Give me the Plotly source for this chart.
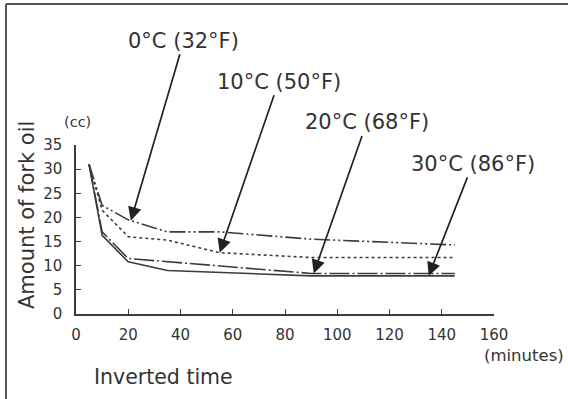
import numpy as np
import plotly.graph_objects as go

# ---- data ----
t_0c = [5, 10, 20, 35, 55, 90, 145]
v_0c = [31, 22.5, 19.5, 17, 17, 15.5, 14.3]

t_10c = [5, 10, 20, 35, 55, 90, 145]
v_10c = [31, 21.5, 16, 15.3, 12.7, 11.7, 11.7]

t_20c = [5, 10, 20, 90, 145]
v_20c = [31, 17, 11.5, 8.4, 8.4]

t_30c = [5, 10, 20, 35, 90, 145]
v_30c = [31, 16.3, 10.8, 9.0, 7.9, 7.9]

labels = ["0°C (32°F)", "10°C (50°F)", "20°C (68°F)", "30°C (86°F)"]
arrow_times = [21, 55, 91, 135]

x_ticks = [0, 20, 40, 60, 80, 100, 120, 140, 160]
y_ticks = [0, 5, 10, 15, 20, 25, 30, 35]

# ---- styling ----
W, H = 568, 399
ML, MR, MT, MB = 76, 74, 145, 85
PW, PH = W - ML - MR, H - MT - MB
FONT = "DejaVu Sans, Liberation Sans, Arial, sans-serif"
TXT = "#333333"
LINE = "#3c3c3c"


def px(xp):
    return (xp - ML) / PW


def py(yp):
    return (H - MB - yp) / PH


series = [
    (t_0c, v_0c, "16px,3px,2px,3px,2px,3px"),
    (t_10c, v_10c, "3px,3px"),
    (t_20c, v_20c, "20px,3px,2px,3px"),
    (t_30c, v_30c, "solid"),
]

fig = go.Figure()
for (tx, vy, dash), name in zip(series, labels):
    fig.add_trace(go.Scatter(x=tx, y=vy, mode="lines", name=name,
                             line=dict(color=LINE, width=1.6, dash=dash),
                             hoverinfo="skip"))

# arrow label offsets (pixels) from the tip
offsets = [(53, -180), (59, -171), (53, -151), (44, -112)]
for (tx, vy, _), lab, at, (ax, ay) in zip(series, labels, arrow_times, offsets):
    tip_y = float(np.interp(at, tx, vy))
    fig.add_annotation(x=at, y=tip_y, xref="x", yref="y", text=lab,
                       showarrow=True, ax=ax, ay=ay, arrowhead=2,
                       arrowsize=1.6, arrowwidth=1.7, arrowcolor="#222222",
                       standoff=0, startstandoff=0,
                       xanchor="center", yanchor="middle",
                       font=dict(family=FONT, size=21, color=TXT))


def label(xp, yp, text, size, angle=0):
    fig.add_annotation(x=px(xp), y=py(yp), xref="paper", yref="paper",
                       text=text, showarrow=False, textangle=angle,
                       xanchor="center", yanchor="middle",
                       font=dict(family=FONT, size=size, color=TXT))


label(77, 122, "(cc)", 14.5)
label(524, 355, "(minutes)", 16.5)
label(163, 377, "Inverted time", 20.5)
label(27, 215, "Amount of fork oil", 21, -90)

# frame
fig.add_shape(type="line", xref="paper", yref="paper",
              x0=px(6), x1=px(6), y0=py(4), y1=py(399),
              line=dict(color="#555555", width=2))
fig.add_shape(type="line", xref="paper", yref="paper",
              x0=px(6), x1=px(568), y0=py(4), y1=py(4),
              line=dict(color="#555555", width=2))

axis_common = dict(showgrid=False, zeroline=False, showline=True,
                   linecolor=LINE, linewidth=1.5, ticks="inside",
                   ticklen=5, tickwidth=1.2, tickcolor=LINE,
                   tickfont=dict(family=FONT, size=15, color=TXT))
fig.update_xaxes(range=[0, 160], tickvals=x_ticks, ticklabelstandoff=6,
                 **axis_common)
fig.update_yaxes(range=[0, 35], tickvals=y_ticks, ticklabelstandoff=9,
                 **axis_common)

fig.update_layout(width=W, height=H, autosize=False,
                  margin=dict(l=ML, r=MR, t=MT, b=MB),
                  paper_bgcolor="white", plot_bgcolor="white",
                  showlegend=False)

fig.write_html("out.html", config={"displayModeBar": False},
               post_script="document.body.style.margin='0';"
                           "document.body.style.overflow='hidden';"
                           "document.documentElement.style.overflow='hidden';")
